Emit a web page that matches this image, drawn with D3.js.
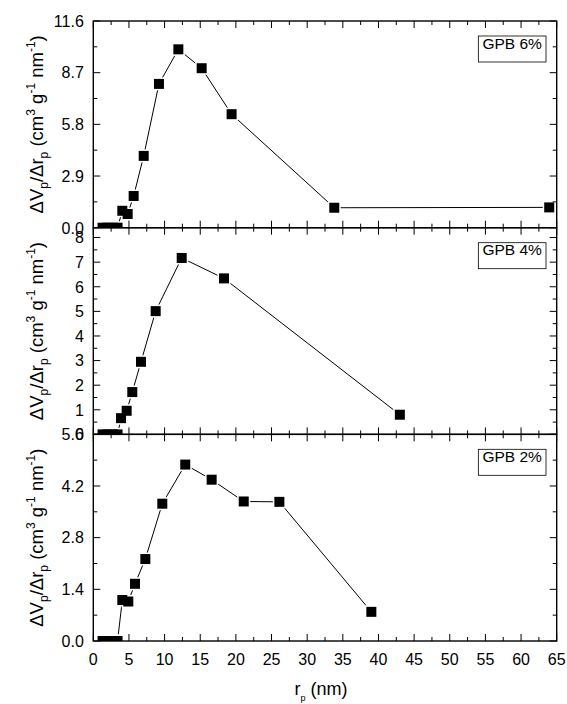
<!DOCTYPE html>
<html>
<head>
<meta charset="utf-8">
<script src="https://cdn.jsdelivr.net/npm/d3@7"></script>
<style>
  html, body { margin: 0; padding: 0; background: #fff; }
  svg { display: block; font-family: "Liberation Sans", Arial, sans-serif; }
</style>
</head>
<body>
<svg id="chart" width="567" height="704"></svg>
<script>
// Pore size distributions (dV/dr vs pore radius) for three GPB loadings
const rp6 = [1.3, 2.0, 2.7, 3.4, 4.07, 4.82, 5.66, 7.07, 9.21, 11.93, 15.2, 19.4, 33.8, 63.95];
const dv6 = [0, 0, 0, 0, 0.95, 0.77, 1.78, 4.03, 8.07, 10.01, 8.95, 6.37, 1.12, 1.14];

const rp4 = [1.3, 2.0, 2.7, 3.4, 3.89, 4.68, 5.47, 6.69, 8.75, 12.4, 18.33, 43.0];
const dv4 = [0, 0, 0, 0, 0.66, 0.96, 1.72, 2.95, 5.01, 7.17, 6.34, 0.80];

const rp2 = [1.3, 2.0, 2.7, 3.4, 4.07, 4.91, 5.85, 7.3, 9.68, 12.9, 16.6, 21.1, 26.1, 39.0];
const dv2 = [0, 0, 0, 0, 1.11, 1.07, 1.55, 2.22, 3.72, 4.78, 4.37, 3.78, 3.77, 0.79];

const panelLabels = ["GPB 6%", "GPB 4%", "GPB 2%"];
const yMax = [11.6, 8.4, 5.6];
const yMajor = [[0, 2.9, 5.8, 8.7, 11.6], [0, 1, 2, 3, 4, 5, 6, 7, 8], [0, 1.4, 2.8, 4.2, 5.6]];
const yMinor = [[1.45, 4.35, 7.25, 10.15], [0.5, 1.5, 2.5, 3.5, 4.5, 5.5, 6.5, 7.5], [0.7, 2.1, 3.5, 4.9]];
const yFormat = [".1f", "d", ".1f"];
const xMajor = d3.range(0, 66, 5);
const xMinor = d3.range(2.5, 65, 5);

const series = [
  { r: rp6, v: dv6 },
  { r: rp4, v: dv4 },
  { r: rp2, v: dv2 }
];

const svg = d3.select("#chart");
const left = 93.3, right = 556.7;
const tops = [21, 227.7, 434.3];
const ph = 206.7;

const x = d3.scaleLinear().domain([0, 65]).range([left, right]);

const majorLen = 7, minorLen = 4;
const tickFont = 16;

series.forEach((s, i) => {
  const top = tops[i], bottom = top + ph;
  const y = d3.scaleLinear().domain([0, yMax[i]]).range([bottom, top]);
  const g = svg.append("g");

  const clipId = "clip" + i;
  svg.append("clipPath").attr("id", clipId)
    .append("rect").attr("x", left).attr("y", top).attr("width", right - left).attr("height", ph);

  // data: line, white halo, black squares
  const pts = s.r.map((r, k) => [r, s.v[k]]);
  const plot = g.append("g").attr("clip-path", `url(#${clipId})`);
  plot.append("path")
    .datum(pts)
    .attr("fill", "none")
    .attr("stroke", "#000")
    .attr("stroke-width", 1)
    .attr("d", d3.line().x(d => x(d[0])).y(d => y(d[1])));
  const sz = 10, halo = 13;
  plot.selectAll("rect.halo").data(pts).join("rect")
    .attr("class", "halo")
    .attr("x", d => x(d[0]) - halo / 2).attr("y", d => y(d[1]) - halo / 2)
    .attr("width", halo).attr("height", halo).attr("fill", "#fff");
  plot.selectAll("rect.pt").data(pts).join("rect")
    .attr("class", "pt")
    .attr("x", d => x(d[0]) - sz / 2).attr("y", d => y(d[1]) - sz / 2)
    .attr("width", sz).attr("height", sz).attr("fill", "#000");

  // inward ticks on all four sides
  const tk = g.append("g").attr("stroke", "#000").attr("stroke-width", 1);
  const addX = (vals, len) => {
    vals.forEach(v => {
      tk.append("line").attr("x1", x(v)).attr("x2", x(v)).attr("y1", bottom).attr("y2", bottom - len);
      tk.append("line").attr("x1", x(v)).attr("x2", x(v)).attr("y1", top).attr("y2", top + len);
    });
  };
  const addY = (vals, len) => {
    vals.forEach(v => {
      tk.append("line").attr("x1", left).attr("x2", left + len).attr("y1", y(v)).attr("y2", y(v));
      tk.append("line").attr("x1", right).attr("x2", right - len).attr("y1", y(v)).attr("y2", y(v));
    });
  };
  addX(xMajor, majorLen);
  addX(xMinor, minorLen);
  addY(yMajor[i], majorLen);
  addY(yMinor[i], minorLen);

  // frame
  g.append("rect").attr("x", left).attr("y", top).attr("width", right - left).attr("height", ph)
    .attr("fill", "none").attr("stroke", "#000").attr("stroke-width", 1.4);

  // y tick labels
  const fmt = d3.format(yFormat[i]);
  g.selectAll("text.yl").data(yMajor[i]).join("text")
    .attr("class", "yl")
    .attr("x", left - 9.5).attr("y", d => y(d) + 5.8)
    .attr("text-anchor", "end").attr("font-size", tickFont).attr("fill", "#000")
    .text(d => fmt(d));

  // y axis title
  const cy = (top + bottom) / 2;
  const t = g.append("text")
    .attr("transform", `translate(43,${cy}) rotate(-90)`)
    .attr("text-anchor", "middle").attr("font-size", 18.5).attr("fill", "#000");
  t.append("tspan").text("\u0394V");
  t.append("tspan").attr("font-size", 12).attr("dy", 5).text("p");
  t.append("tspan").attr("dy", -5).text("/\u0394r");
  t.append("tspan").attr("font-size", 12).attr("dy", 5).text("p");
  t.append("tspan").attr("dy", -5).text(" (cm");
  t.append("tspan").attr("font-size", 12).attr("dy", -8).text("3");
  t.append("tspan").attr("dy", 8).text(" g");
  t.append("tspan").attr("font-size", 12).attr("dy", -8).text("-1");
  t.append("tspan").attr("dy", 8).text(" nm");
  t.append("tspan").attr("font-size", 12).attr("dy", -8).text("-1");
  t.append("tspan").attr("dy", 8).text(")");

  // panel legend box
  const lb = g.append("g");
  const txt = lb.append("text")
    .attr("x", 514).attr("y", top + 27.5)
    .attr("text-anchor", "middle").attr("font-size", 15.5).attr("fill", "#000")
    .text(panelLabels[i]);
  const bb = txt.node().getBBox();
  const bw = bb.width + 8;
  lb.insert("rect", "text")
    .attr("x", 546 - bw).attr("y", top + 15)
    .attr("width", bw).attr("height", 26)
    .attr("fill", "#fff").attr("stroke", "#000").attr("stroke-width", 0.8);
  txt.attr("x", 546 - bw / 2);
});

// x tick labels on the bottom panel
const xb = tops[2] + ph;
svg.selectAll("text.xl").data(xMajor).join("text")
  .attr("class", "xl")
  .attr("x", d => x(d)).attr("y", xb + 24)
  .attr("text-anchor", "middle").attr("font-size", tickFont).attr("fill", "#000")
  .text(d => d);

// x axis title
const xt = svg.append("text")
  .attr("x", (left + right) / 2 - 4).attr("y", 695)
  .attr("text-anchor", "middle").attr("font-size", 18).attr("fill", "#000");
xt.append("tspan").text("r");
xt.append("tspan").attr("font-size", 9).attr("dy", 6).text("p");
xt.append("tspan").attr("dy", -6).text(" (nm)");
</script>
</body>
</html>
